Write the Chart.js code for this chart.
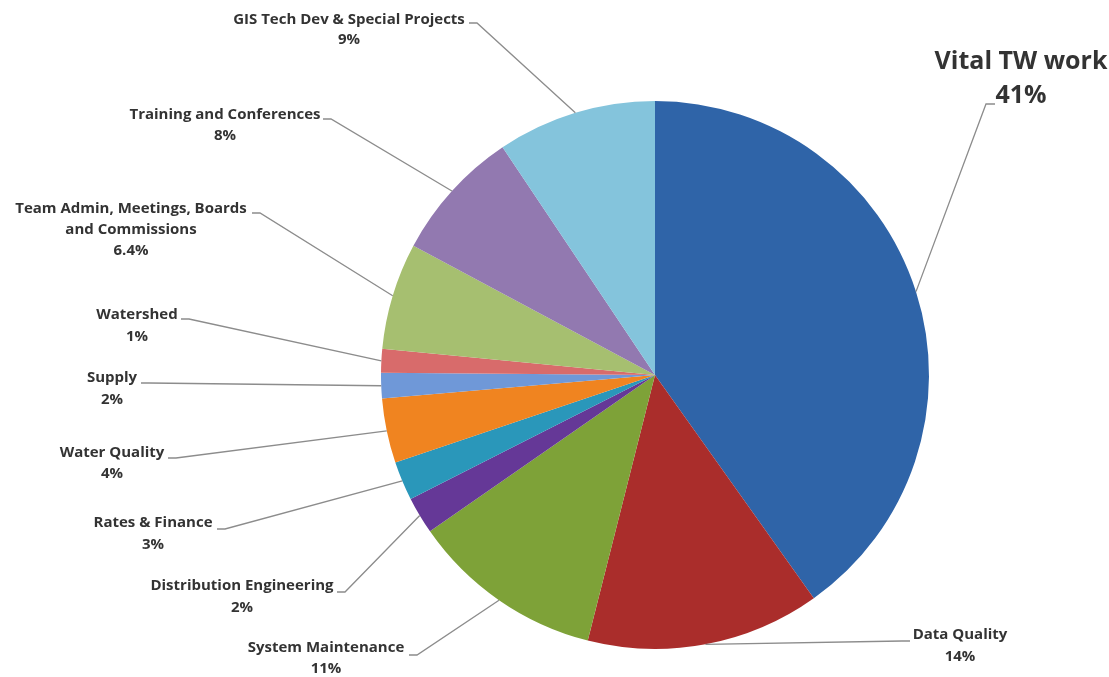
<!DOCTYPE html>
<html><head><meta charset="utf-8">
<script src="https://cdn.jsdelivr.net/npm/chart.js@4"></script>
<style>html,body{margin:0;padding:0;background:#fff}#wrap{width:1109px;height:677px;position:relative}</style>
</head><body><div id="wrap"><canvas id="c"></canvas></div>
<script>
const categories = ['Vital TW work', 'Data Quality', 'System Maintenance', 'Distribution Engineering',
  'Rates & Finance', 'Water Quality', 'Supply', 'Watershed',
  ['Team Admin, Meetings, Boards', 'and Commissions'], 'Training and Conferences', 'GIS Tech Dev & Special Projects'];
const values = [40.2, 13.8, 11.4, 2.2, 2.3, 3.8, 1.5, 1.4, 6.3, 7.8, 9.4];
const percentLabels = ['41%', '14%', '11%', '2%', '3%', '4%', '2%', '1%', '6.4%', '8%', '9%'];
const colors = ['#2f64a8', '#aa2d2b', '#7ea238', '#653897', '#2a97ba', '#f08420', '#6f98d8', '#d86b6b', '#a6bf70', '#9279b0', '#84c4dc'];

// label layout: text centre x, first-line y, font size, line height, stub start, stub length
const labelLayout = [
  {x: 1021, y: 62, size: 25, lh: 34, sx: 995, sy: 104, len: -9},
  {x: 960, y: 635, size: 15, lh: 22, sx: 910, sy: 641, len: -8},
  {x: 326, y: 648, size: 15, lh: 21, sx: 409, sy: 655, len: 8},
  {x: 242, y: 586, size: 15, lh: 22, sx: 337, sy: 592, len: 8},
  {x: 153, y: 523, size: 15, lh: 22, sx: 217, sy: 529, len: 8},
  {x: 112, y: 453, size: 15, lh: 21, sx: 168, sy: 458, len: 8},
  {x: 112, y: 378, size: 15, lh: 22, sx: 141, sy: 383, len: 8},
  {x: 137, y: 315, size: 15, lh: 22, sx: 181, sy: 319, len: 8},
  {x: 131, y: 209, size: 15, lh: 21, sx: 252, sy: 213, len: 8},
  {x: 225, y: 115, size: 15, lh: 21, sx: 323, sy: 119, len: 8},
  {x: 349, y: 20, size: 15, lh: 20, sx: 469, sy: 23, len: 8}
];

const leaderPlugin = {
  id: 'leaders',
  afterDatasetsDraw(chart) {
    const ctx = chart.ctx;
    const meta = chart.getDatasetMeta(0);
    meta.data.forEach((arc, i) => {
      const L = labelLayout[i];
      const mid = (arc.startAngle + arc.endAngle) / 2;
      const px = arc.x + Math.cos(mid) * arc.outerRadius;
      const py = arc.y + Math.sin(mid) * arc.outerRadius;
      ctx.save();
      ctx.strokeStyle = '#8c8c8c';
      ctx.lineWidth = 1.3;
      ctx.beginPath();
      ctx.moveTo(L.sx, L.sy);
      ctx.lineTo(L.sx + L.len, L.sy);
      ctx.lineTo(px, py);
      ctx.stroke();
      const name = chart.data.labels[i];
      const lines = (Array.isArray(name) ? name : [name]).concat([percentLabels[i]]);
      ctx.fillStyle = '#333333';
      ctx.font = 'bold ' + L.size + 'px "Open Sans", Lato, sans-serif';
      ctx.textAlign = 'center';
      ctx.textBaseline = 'middle';
      lines.forEach((t, k) => ctx.fillText(t, L.x, L.y + k * L.lh));
      ctx.restore();
    });
  }
};

new Chart(document.getElementById('c'), {
  type: 'pie',
  data: {
    labels: categories,
    datasets: [{ data: values, backgroundColor: colors, borderWidth: 0 }]
  },
  options: {
    responsive: true,
    maintainAspectRatio: false,
    animation: false,
    layout: { padding: { left: 381, right: 180, top: 101, bottom: 28 } },
    plugins: { legend: { display: false }, tooltip: { enabled: false } }
  },
  plugins: [leaderPlugin]
});
</script>
</body></html>
